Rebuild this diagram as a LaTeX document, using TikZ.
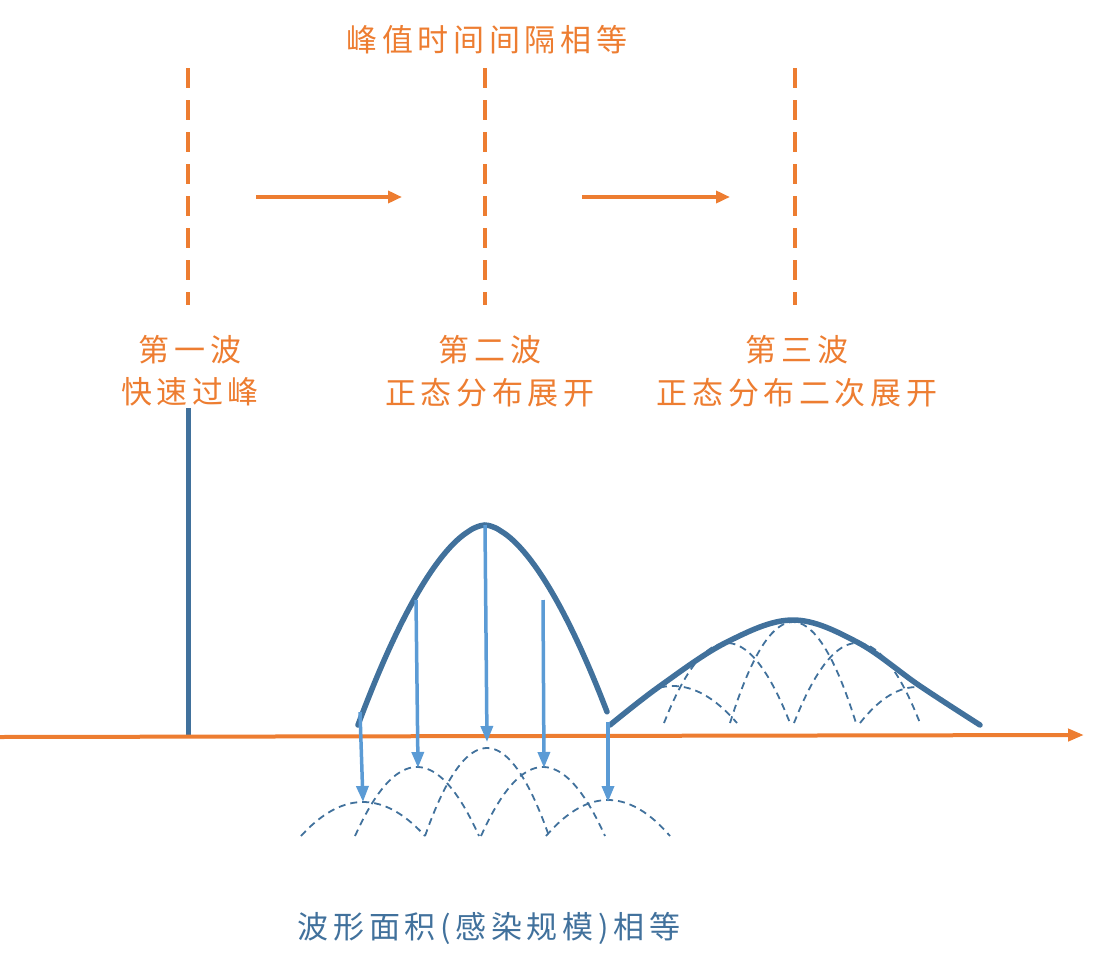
\documentclass[tikz,border=0pt]{standalone}
\usepackage{fontspec}
\newfontfamily\cjk[LetterSpace=15]{Noto Sans CJK SC}
\usetikzlibrary{arrows.meta}
\definecolor{org}{HTML}{ED7D31}
\definecolor{dblue}{HTML}{41719C}
\definecolor{lblue}{HTML}{5B9BD5}
\begin{document}
\begin{tikzpicture}[x=1pt,y=-1pt,
  lbl/.style={text=org,font=\cjk\fontsize{31}{34}\selectfont,inner sep=0},
  vdash/.style={org,line width=4.5pt,dash pattern=on 20pt off 12pt},
  oarr/.style={org,line width=4pt,-{Triangle[length=14pt,width=12pt]}},
  barr/.style={lblue,line width=3.5pt,-{Triangle[length=16pt,width=12pt]}},
  hump/.style={dblue,line width=5.5pt,line cap=round},
  sub/.style={dblue,line width=1.8pt,dash pattern=on 7pt off 5pt}]
\useasboundingbox (0,0) rectangle (1101,972);
\node[lbl] (title) at (487,40) {峰值时间间隔相等};
\foreach \x/\n in {188/a,485/b,795/c}{
  \coordinate (\n t) at (\x,68); \coordinate (\n b) at (\x,305);
  \draw[vdash] (\n t) -- (\n b);}
\coordinate (r1s) at (256,197); \coordinate (r1e) at (402,197);
\coordinate (r2s) at (582,197); \coordinate (r2e) at (730,197);
\draw[oarr] (r1s) -- (r1e);
\draw[oarr] (r2s) -- (r2e);
\node[lbl] (w1a) at (190,350) {第一波};
\node[lbl] (w1b) at (190,392) {快速过峰};
\node[lbl] (w2a) at (490,350) {第二波};
\node[lbl] (w2b) at (490,393) {正态分布展开};
\node[lbl] (w3a) at (797,350) {第三波};
\node[lbl] (w3b) at (797,393) {正态分布二次展开};
\node[lbl,text=dblue] (bot) at (489,928) {波形面积(感染规模)相等};
% spike
\coordinate (sp1) at (188,408); \coordinate (sp2) at (188,737);
\draw[dblue,line width=5pt] (sp1) -- (sp2);
% sub arcs bottom
\foreach \c/\p in {363/802,417/767,487/748,543/767,608/800}{
  \draw[sub] plot[smooth,domain=-62:62,samples=25] ({\c+\x},{836-(836-\p)*(1-(\x/62)*(\x/62))});}
% sub arcs right
\draw[sub] plot[smooth,domain=-13:64,samples=20] ({673+\x},{723-(723-686)*(1-(\x/64)*(\x/64))});
\foreach \c/\p in {727/643,793/622,857/643}{
  \draw[sub] plot[smooth,domain=-63:63,samples=25] ({\c+\x},{723-(723-\p)*(1-(\x/63)*(\x/63))});}
\draw[sub] plot[smooth,domain=-57:13,samples=20] ({917+\x},{723-(723-687)*(1-(\x/57)*(\x/57))});
% axis
\coordinate (ax1) at (0,737); \coordinate (ax2) at (1084,735);
\draw[org,line width=4pt,-{Triangle[length=16pt,width=12pt]}] (ax1) -- (ax2);
% humps
\draw[hump] plot[smooth,domain=-127:122,samples=60] ({485+\x},{725-200*(1-pow(abs(\x)/127,1.7))});
\draw[hump] plot[smooth,tension=0.6] coordinates {(610,725) (660,686) (727,642) (793,620) (857,642) (920,686) (980,725)};
% arrows
\foreach \a/\b/\c/\d/\n in {360/712/363/802/p1,416/600/418/768/p2,485/525/487/742/p3,543/600/544/768/p4,608/722/608/802/p5}{
  \coordinate (\n s) at (\a,\b); \coordinate (\n e) at (\c,\d);
  \draw[barr] (\n s) -- (\n e);}
\end{tikzpicture}
\end{document}
